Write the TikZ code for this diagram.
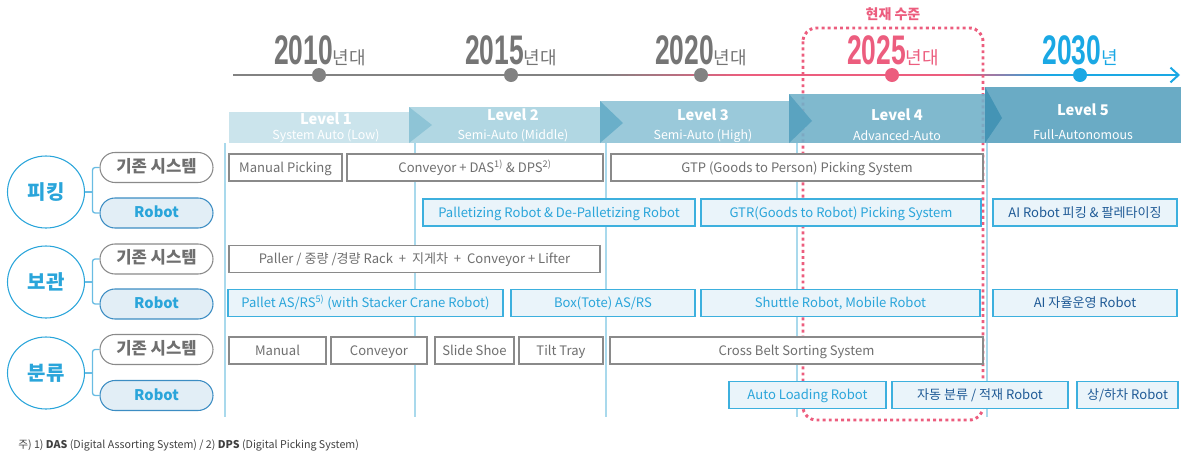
\documentclass[tikz,border=0pt]{standalone}
\usepackage{fontspec}
\setmainfont{Noto Sans CJK KR}
\newfontfamily\yearfont{Liberation Sans}[FakeStretch=0.64]
\usetikzlibrary{shapes.geometric,calc,arrows.meta}

\definecolor{boxgray}{HTML}{8A8A8A}
\definecolor{textgray}{HTML}{6F6F6F}
\definecolor{robotline}{HTML}{3DB0DE}
\definecolor{robotfill}{HTML}{EAF4FA}
\definecolor{robottext}{HTML}{2AA5DA}
\definecolor{aitext}{HTML}{1F5A96}
\definecolor{pillline}{HTML}{3C8DC3}
\definecolor{pillfill}{HTML}{E2EEF6}
\definecolor{catblue}{HTML}{2AA5DA}
\definecolor{bracketblue}{HTML}{69BCE3}
\definecolor{divider}{HTML}{A9D9EC}
\definecolor{nowpink}{HTML}{EC5D7E}
\definecolor{tlgray}{HTML}{828282}
\definecolor{tlblue}{HTML}{1AA8E4}
\definecolor{yeargray}{HTML}{757575}
\definecolor{lvA}{HTML}{C5E1EA}
\definecolor{lvB}{HTML}{A8D3E0}
\definecolor{lvC}{HTML}{8FC3D6}
\definecolor{lvD}{HTML}{72B1C9}
\definecolor{lvE}{HTML}{5AA2BF}
\definecolor{triB}{HTML}{8EC4D6}
\definecolor{triC}{HTML}{6AAFC9}
\definecolor{triD}{HTML}{5AA3C0}
\definecolor{triE}{HTML}{4494B5}
\definecolor{footgray}{HTML}{404040}

\def\unitpx{0.75pt}

\tikzset{
  sysbox/.style={
    draw=boxgray, fill=white, text=textgray,
    line width=0.8pt,
    minimum width=#1*\unitpx,
    minimum height=27*\unitpx,
    inner sep=0pt,
    text height=0.68em, text depth=0pt,
    font=\fontsize{9.8}{11}\selectfont
  },
  robotbox/.style={sysbox=#1, draw=robotline, fill=robotfill, text=robottext},
  aibox/.style={robotbox=#1, text=aitext},
  pillsys/.style={
    draw=boxgray, fill=white, text=textgray,
    line width=0.8pt,
    rounded corners=15*\unitpx,
    minimum width=113*\unitpx,
    minimum height=30*\unitpx,
    inner sep=0pt,
    text height=0.78em, text depth=0.04em,
    font=\bfseries\fontsize{12.5}{13}\selectfont
  },
  pillrobot/.style={pillsys, draw=pillline, fill=pillfill, text=catblue,
    text height=0.68em, text depth=0pt,
    font=\bfseries\fontsize{11}{12}\selectfont},
  catnode/.style={
    ellipse, draw=catblue, line width=0.8pt,
    minimum width=77*\unitpx, minimum height=72*\unitpx,
    inner sep=0pt, text=catblue,
    font=\bfseries\fontsize{15}{15}\selectfont
  },
  bracket/.style={draw=bracketblue, line width=1pt, rounded corners=2pt},
  lvtitle/.style={text=white, font=\bfseries\fontsize{11}{12}\selectfont, inner sep=0pt},
  lvsub/.style={text=white, font=\fontsize{9.3}{10}\selectfont, inner sep=0pt},
  yeardot/.style={circle, fill=#1, minimum size=14*\unitpx, inner sep=0pt},
  yearlabel/.style={anchor=base, inner sep=0pt, text=#1},
  nowframe/.style={draw=nowpink, line width=2.2pt, dash pattern=on 2.2pt off 2.4pt, rounded corners=10pt},
  tline/.style={line width=1.5pt},
}

\newcommand{\yearnum}[1]{{\yearfont\bfseries\fontsize{31}{31}\selectfont #1}}
\newcommand{\yearkr}[1]{{\fontsize{13.5}{14}\selectfont #1}}

\begin{document}
\begin{tikzpicture}[x=0.75pt, y=-0.75pt]
  \useasboundingbox (0,0) rectangle (1190,458);

  %% Column dividers
  \foreach \cx in {225,415,606,797,987}
    \draw[divider, line width=1.1pt] (\cx,143) -- (\cx,417);

  %% Timeline
  \coordinate (tlStart) at (233,75);
  \coordinate (tlEnd) at (1180,75);
  \coordinate (gA) at (600,75);
  \coordinate (gB) at (960,75);
  \coordinate (gC) at (1050,75);
  \draw[tline, tlgray] (tlStart) -- (gA);
  % gray -> pink
  \foreach \i in {0,...,19} {
    \pgfmathsetmacro\xa{600+7*\i}
    \pgfmathsetmacro\xb{\xa+7.5}
    \pgfmathtruncatemacro\pc{5*\i}
    \draw[tline, nowpink!\pc!tlgray] (\xa,75) -- (\xb,75);
  }
  \draw[tline, nowpink] (740,75) -- (gB);
  % pink -> blue
  \foreach \i in {0,...,17} {
    \pgfmathsetmacro\xa{960+5*\i}
    \pgfmathsetmacro\xb{\xa+5.5}
    \pgfmathtruncatemacro\pc{6*\i}
    \draw[tline, tlblue!\pc!nowpink] (\xa,75) -- (\xb,75);
  }
  \draw[tline, tlblue, -{Straight Barb[length=6pt, width=11pt, line width=1.5pt]}] (gC) -- (tlEnd);

  \node[yeardot=tlgray] (d2010) at (319,75) {};
  \node[yeardot=tlgray] (d2015) at (511,75) {};
  \node[yeardot=tlgray] (d2020) at (701,75) {};
  \node[yeardot=nowpink] (d2025) at (892,75) {};
  \node[yeardot=tlblue] (d2030) at (1080,75) {};

  %% Years
  \node[yearlabel=yeargray] (y2010) at (320,64) {\yearnum{2010}\yearkr{년대}};
  \node[yearlabel=yeargray] (y2015) at (511,64) {\yearnum{2015}\yearkr{년대}};
  \node[yearlabel=yeargray] (y2020) at (701,64) {\yearnum{2020}\yearkr{년대}};
  \node[yearlabel=nowpink] (y2025) at (893,64) {\yearnum{2025}\yearkr{년대}};
  \node[yearlabel=tlblue] (y2030) at (1080,64) {\yearnum{2030}\yearkr{년}};

  %% Current level frame
  \node[text=nowpink, font=\bfseries\fontsize{10.5}{11}\selectfont, inner sep=0pt] (now) at (893,14) {현재 수준};
  \draw[nowframe] (803,28) rectangle (983,420);

  %% Level banners
  \fill[lvA, fill opacity=0.9] (229,112) rectangle (409,143);
  \fill[lvB, fill opacity=0.9] (409,107) rectangle (600,143);
  \fill[lvC, fill opacity=0.9] (600,101) rectangle (789,143);
  \fill[lvD, fill opacity=0.9] (789,94) rectangle (985,143);
  \fill[lvE, fill opacity=0.9] (985,87) rectangle (1181,143);
  \fill[triB] (409,107) -- (432,125) -- (409,143) -- cycle;
  \fill[triC] (600,101) -- (623,123) -- (600,143) -- cycle;
  \fill[triD] (789,94) -- (812,121) -- (789,143) -- cycle;
  \fill[triE] (985,87) -- (1002,118) -- (985,143) -- cycle;

  \node[lvtitle] (lv1) at (326,119) {Level 1};
  \node[lvsub] (lv1s) at (326,136) {System Auto (Low)};
  \node[lvtitle] (lv2) at (513,115) {Level 2};
  \node[lvsub] (lv2s) at (513,136) {Semi-Auto (Middle)};
  \node[lvtitle] (lv3) at (703,115) {Level 3};
  \node[lvsub] (lv3s) at (703,136) {Semi-Auto (High)};
  \node[lvtitle] (lv4) at (897,115) {Level 4};
  \node[lvsub] (lv4s) at (897,136) {Advanced-Auto};
  \node[lvtitle] (lv5) at (1083,110) {Level 5};
  \node[lvsub] (lv5s) at (1083,135) {Full-Autonomous};

  %% Categories
  \node[catnode] (pick) at (46,192) {피킹};
  \node[catnode] (store) at (46,282) {보관};
  \node[catnode] (sort) at (46,373) {분류};

  \node[pillsys] (pickSys) at (156.5,167.5) {기존 시스템};
  \node[pillrobot] (pickRob) at (156.5,213) {Robot};
  \node[pillsys] (storeSys) at (156.5,259) {기존 시스템};
  \node[pillrobot] (storeRob) at (156.5,304) {Robot};
  \node[pillsys] (sortSys) at (156.5,349.5) {기존 시스템};
  \node[pillrobot] (sortRob) at (156.5,395.5) {Robot};

  \foreach \c/\s/\r in {pick/pickSys/pickRob, store/storeSys/storeRob, sort/sortSys/sortRob} {
    \coordinate (\c J) at ($(\s.west)!0.5!(\r.west) + (-7,0)$);
    \draw[bracket] (\s.west) -| (\c J) |- (\r.west);
    \draw[bracket] (\c.east) -- (\c.east -| \c J);
  }

  %% Picking
  \node[sysbox=113] (pkManual) at (285.5,167.5) {Manual Picking};
  \node[sysbox=256] (pkConv) at (475,167.5) {Conveyor + DAS\textsuperscript{1)} \& DPS\textsuperscript{2)}};
  \node[sysbox=372] (pkGTP) at (797,167.5) {GTP (Goods to Person) Picking System};
  \node[robotbox=272] (pkPal) at (559,212.5) {Palletizing Robot \& De-Palletizing Robot};
  \node[robotbox=280] (pkGTR) at (841,212.5) {GTR(Goods to Robot) Picking System};
  \node[aibox=184] (pkAI) at (1085,212.5) {AI Robot 피킹 \& 팔레타이징};

  %% Storage
  \node[sysbox=371] (stRack) at (414.5,259) {Paller / 중량 /경량 Rack \ + \ 지게차 \ + \ Conveyor + Lifter};
  \node[robotbox=275] (stPallet) at (365.5,303) {Pallet AS/RS\textsuperscript{5)} (with Stacker Crane Robot)};
  \node[robotbox=184] (stBox) at (603,303) {Box(Tote) AS/RS};
  \node[robotbox=279] (stShuttle) at (840.5,303) {Shuttle Robot, Mobile Robot};
  \node[aibox=184] (stAI) at (1085,303) {AI 자율운영 Robot};

  %% Sorting
  \node[sysbox=97] (soManual) at (277.5,350.5) {Manual};
  \node[sysbox=96] (soConv) at (379,350.5) {Conveyor};
  \node[sysbox=79] (soSlide) at (474.5,350.5) {Slide Shoe};
  \node[sysbox=84] (soTilt) at (561,350.5) {Tilt Tray};
  \node[sysbox=373] (soCross) at (796.5,350.5) {Cross Belt Sorting System};
  \node[robotbox=157] (soAuto) at (807.5,395) {Auto Loading Robot};
  \node[aibox=176] (soStack) at (980,395) {자동 분류 / 적재 Robot};
  \node[aibox=101] (soLoad) at (1127.5,395) {상/하차 Robot};

  %% Footnote
  \node[anchor=base west, inner sep=0pt, text=footgray, font=\fontsize{8}{9}\selectfont] (note) at (18,448)
    {주) 1) \textbf{DAS} (Digital Assorting System) / 2) \textbf{DPS} (Digital Picking System)};
\end{tikzpicture}
\end{document}
